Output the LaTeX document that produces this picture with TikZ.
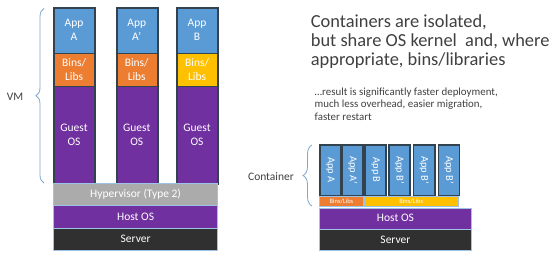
\documentclass[tikz,border=0pt]{standalone}
\usepackage{fontspec}
\setmainfont{Carlito}
\usetikzlibrary{decorations.pathreplacing}
\definecolor{appblue}{HTML}{5B9BD5}
\definecolor{binorange}{HTML}{ED7D31}
\definecolor{binyellow}{HTML}{FFC000}
\definecolor{ospurple}{HTML}{7030A0}
\definecolor{hypgray}{HTML}{ABABAB}
\definecolor{serverdark}{HTML}{303030}
\definecolor{colborder}{HTML}{33424F}
\definecolor{thinblue}{HTML}{9DC3E6}
\definecolor{bracecol}{HTML}{7FA7CF}
\definecolor{txtgray}{HTML}{404040}
\begin{document}
\begin{tikzpicture}[x=1pt,y=-1pt,
  box/.style={rectangle, inner sep=0pt, anchor=north west, text=white, align=center,
    draw=colborder, line width=0.5pt, font=\fontsize{11.5}{14}\selectfont},
  basebox/.style={rectangle, inner sep=0pt, anchor=north west, text=white, align=center,
    draw=thinblue, line width=0.6pt, font=\fontsize{11.5}{14}\selectfont},
  colframe/.style={rectangle, inner sep=0pt, anchor=north west, draw=colborder, line width=1.8pt},
  cont/.style={rectangle, inner sep=0pt, anchor=north west, draw=colborder, line width=1.5pt,
    fill=appblue, text=white, minimum height=50.5pt, font=\fontsize{10.5}{12}\selectfont},
  binsmall/.style={rectangle, inner sep=0pt, anchor=north west, text=white, draw=thinblue,
    line width=0.5pt, minimum height=10.3pt, font=\fontsize{6.5}{7}\selectfont},
  bracestyle/.style={draw=bracecol, line width=0.8pt, decorate,
    decoration={brace, amplitude=#1}},
  lbl/.style={text=txtgray, inner sep=0pt, font=\fontsize{11.5}{14}\selectfont},
  bigtxt/.style={text=txtgray, inner sep=0pt, anchor=base west, font=\fontsize{18.4}{20}\selectfont},
  smalltxt/.style={text=txtgray, inner sep=0pt, anchor=base west, font=\fontsize{10.9}{12.5}\selectfont}
]
\useasboundingbox (0,0) rectangle (556,263);
\fill[white] (0,0) rectangle (556,263);

% ---- VM columns ----
\foreach \cx/\nm/\app/\bcol in {53.3/1/A/binorange, 116/2/A'/binorange, 176.3/3/B/binyellow}{
  \node[box, fill=appblue, minimum width=41pt, minimum height=45.4pt] (app\nm) at (\cx,7.3) {App\\\app};
  \node[box, fill=\bcol, minimum width=41pt, minimum height=33.3pt] (bins\nm) at (\cx,52.7) {Bins/\\Libs};
  \node[box, fill=ospurple, minimum width=41pt, minimum height=96.7pt] (guest\nm) at (\cx,86) {Guest\\OS};
  \node[colframe, minimum width=41pt, minimum height=175.4pt] (col\nm) at (\cx,7.3) {};
}
\node[basebox, fill=hypgray, minimum width=164pt, minimum height=22.3pt] (hyp) at (53.3,182.7) {Hypervisor (Type 2)};
\node[basebox, fill=ospurple, minimum width=164pt, minimum height=22.7pt] (hostL) at (53.3,205) {Host OS};
\node[basebox, fill=serverdark, minimum width=164pt, minimum height=22.3pt] (serverL) at (53.3,227.7) {Server};

% VM brace
\coordinate (vmtop) at (44,8.5);
\coordinate (vmbot) at (44,183);
\draw[bracestyle=8pt] (vmbot) -- (vmtop);
\node[lbl] (vm) at (15,96.7) {VM};

% ---- Containers ----
\node[cont, minimum width=20.7pt] (cA) at (319.3,144) {\rotatebox{-90}{App A}};
\node[cont, minimum width=20.7pt] (cA2) at (341.7,144) {\rotatebox{-90}{App A'}};
\node[cont, minimum width=21pt] (cB) at (364.3,144) {\rotatebox{-90}{App B}};
\node[cont, minimum width=21pt] (cB1) at (388.3,144) {\rotatebox{-90}{App B'}};
\node[cont, minimum width=21.3pt] (cB2) at (412.7,144) {\rotatebox{-90}{App B'}};
\node[cont, minimum width=21pt] (cB3) at (437.7,144) {\rotatebox{-90}{App B'}};

\node[binsmall, fill=binorange, minimum width=43.7pt] (binsA) at (319.3,195.8) {Bins/Libs};
\node[binsmall, fill=binyellow, minimum width=93.4pt] (binsB) at (364.3,195.8) {Bins/Libs};
\node[basebox, fill=ospurple, minimum width=151.7pt, minimum height=21pt] (hostR) at (319.3,207.5) {Host OS};
\node[basebox, fill=serverdark, minimum width=151.7pt, minimum height=21.5pt] (serverR) at (319.3,228.5) {Server};

% Container brace
\coordinate (ctop) at (312,145);
\coordinate (cbot) at (312,206);
\draw[bracestyle=9pt] (cbot) -- (ctop);
\node[lbl] (clbl) at (271,176.7) {Container};

% ---- Text ----
\node[bigtxt] (t1) at (310.7,27.5) {Containers are isolated,};
\node[bigtxt] (t2) at (310.7,46.5) {but share OS kernel\ \ and, where};
\node[bigtxt] (t3) at (310.7,65.5) {appropriate, bins/libraries};
\node[smalltxt] (s1) at (314.5,95) {…result is significantly faster deployment,};
\node[smalltxt] (s2) at (314.5,107.5) {much less overhead, easier migration,};
\node[smalltxt] (s3) at (314.5,120) {faster restart};
\end{tikzpicture}
\end{document}
